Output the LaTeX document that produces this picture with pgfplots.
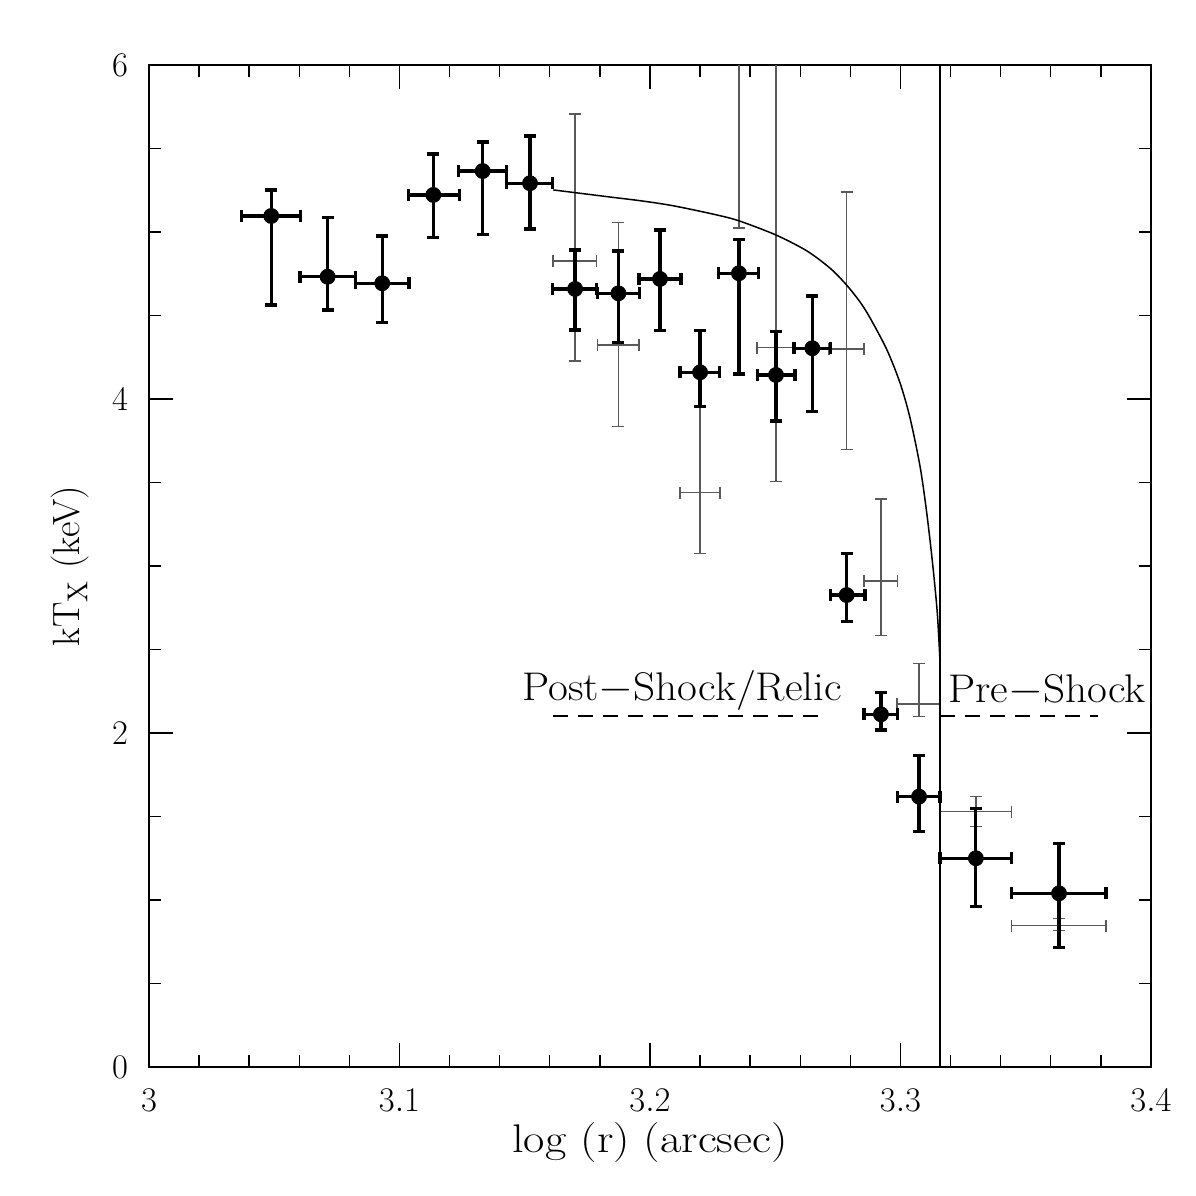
\documentclass[border=0pt]{standalone}
\usepackage{pgfplots}
\usepackage{pgfplotstable}
\pgfplotsset{compat=1.18}

\pgfplotstableread{
x y xm xp ym yp
3.0488 5.096 0.0118 0.0118 0.533 0.155
3.0713 4.732 0.0110 0.0112 0.199 0.356
3.0931 4.693 0.0106 0.0107 0.234 0.283
3.1135 5.222 0.0100 0.0103 0.256 0.245
3.1332 5.365 0.0096 0.0096 0.381 0.174
3.1521 5.292 0.0093 0.0090 0.274 0.283
3.1701 4.659 0.0089 0.0086 0.246 0.233
3.1874 4.633 0.0084 0.0083 0.296 0.253
3.2040 4.719 0.0084 0.0084 0.310 0.293
3.2200 4.160 0.0080 0.0079 0.206 0.249
3.2355 4.753 0.0080 0.0077 0.603 0.203
3.2503 4.144 0.0075 0.0076 0.276 0.259
3.2648 4.304 0.0073 0.0071 0.380 0.313
3.2785 2.826 0.0066 0.0073 0.159 0.250
3.2922 2.112 0.0068 0.0067 0.094 0.132
3.3074 1.619 0.0087 0.0084 0.210 0.245
3.3301 1.250 0.0143 0.0143 0.290 0.299
3.3633 1.040 0.0189 0.0187 0.323 0.300
}\thick

\pgfplotstableread{
x y xm xp ym yp
3.1701 4.826 0.0089 0.0086 0.597 0.881
3.1874 4.323 0.0084 0.0083 0.489 0.733
3.2200 3.439 0.0080 0.0079 0.363 0.970
3.2355 6.400 0.0080 0.0077 1.376 0.500
3.2503 4.307 0.0075 0.0076 0.802 2.000
3.2785 4.298 0.0070 0.0070 0.599 0.943
3.2922 2.910 0.0068 0.0067 0.327 0.491
3.3074 2.174 0.0087 0.0084 0.076 0.243
3.3301 1.529 0.0143 0.0143 0.090 0.090
3.3633 0.846 0.0189 0.0187 0.030 0.044
}\thin

\begin{document}
\begin{tikzpicture}
\begin{axis}[
  name=ax,
  scale only axis,
  width=501pt, height=501pt,
  xmin=3, xmax=3.4, ymin=0, ymax=6,
  xtick={3,3.1,3.2,3.3,3.4},
  ytick={0,2,4,6},
  minor x tick num=4,
  minor y tick num=3,
  tick align=inside,
  major tick length=12pt,
  minor tick length=6pt,
  axis line style={line width=1pt},
  every tick/.style={black, line width=0.7pt},
  tick label style={font=\fontsize{17}{20}\selectfont},
  x tick label style={yshift=-7.5pt},
  y tick label style={xshift=-7pt},
  xlabel={\scalebox{1.16}[1]{log (r) (arcsec)}},
  ylabel={kT$_{\mathrm{X}}$ (keV)},
  xlabel style={font=\fontsize{20}{22}\selectfont, at={(axis description cs:0.5,-0.0758)}, anchor=center},
  ylabel style={font=\fontsize{19}{22}\selectfont, at={(axis description cs:-0.0788,0.5)}, anchor=center},
  clip=true,
]
% thin series
\addplot[draw=none, mark=none, color=black!65,
  error bars/.cd, x dir=both, x explicit, y dir=both, y explicit,
  error bar style={line width=0.75pt, black!65},
  error mark options={rotate=90, mark size=3pt, line width=0.75pt, black!65}]
  table[x=x, y=y, x error plus=xp, x error minus=xm, y error plus=yp, y error minus=ym]{\thin};
% thick series
\addplot[only marks, mark=*, mark size=3.75pt, color=black,
  error bars/.cd, x dir=both, x explicit, y dir=both, y explicit,
  error bar style={line width=1.6pt, black},
  error mark options={rotate=90, mark size=3pt, line width=1.6pt, black}]
  table[x=x, y=y, x error plus=xp, x error minus=xm, y error plus=yp, y error minus=ym]{\thick};
% model curve
\addplot[black, line width=0.75pt, smooth, tension=0.5, mark=none] coordinates {
(3.1614,5.252) (3.1827,5.212) (3.1968,5.186) (3.2093,5.157) (3.2258,5.105)
(3.2355,5.067) (3.2503,4.982) (3.2626,4.887) (3.2720,4.782) (3.2785,4.682)
(3.2838,4.582) (3.2878,4.487) (3.2945,4.297) (3.2998,4.097) (3.3038,3.887)
(3.3078,3.597) (3.3104,3.327) (3.3128,3.017) (3.3147,2.717) (3.3158,2.417)};
% shock position
\addplot[black, line width=0.75pt, mark=none] coordinates {(3.3158,0) (3.3158,6)};
% dashed lines
\addplot[black, line width=0.75pt, dash pattern=on 7.5pt off 5pt, mark=none] coordinates {(3.1613,2.102) (3.2687,2.102)};
\addplot[black, line width=0.75pt, dash pattern=on 7.5pt off 5pt, mark=none] coordinates {(3.3158,2.102) (3.3790,2.102)};
\node[font=\fontsize{20}{22}\selectfont] at (axis cs:3.2128,2.257) {\scalebox{1.08}[1]{Post$-$Shock/Relic}};
\node[font=\fontsize{20}{22}\selectfont] at (axis cs:3.3585,2.257) {\scalebox{1.08}[1]{Pre$-$Shock}};
\end{axis}
\pgfresetboundingbox
\path[use as bounding box] (ax.south west) ++(-74.5pt,-64.5pt) rectangle ++(598pt,598pt);
\end{tikzpicture}
\end{document}
